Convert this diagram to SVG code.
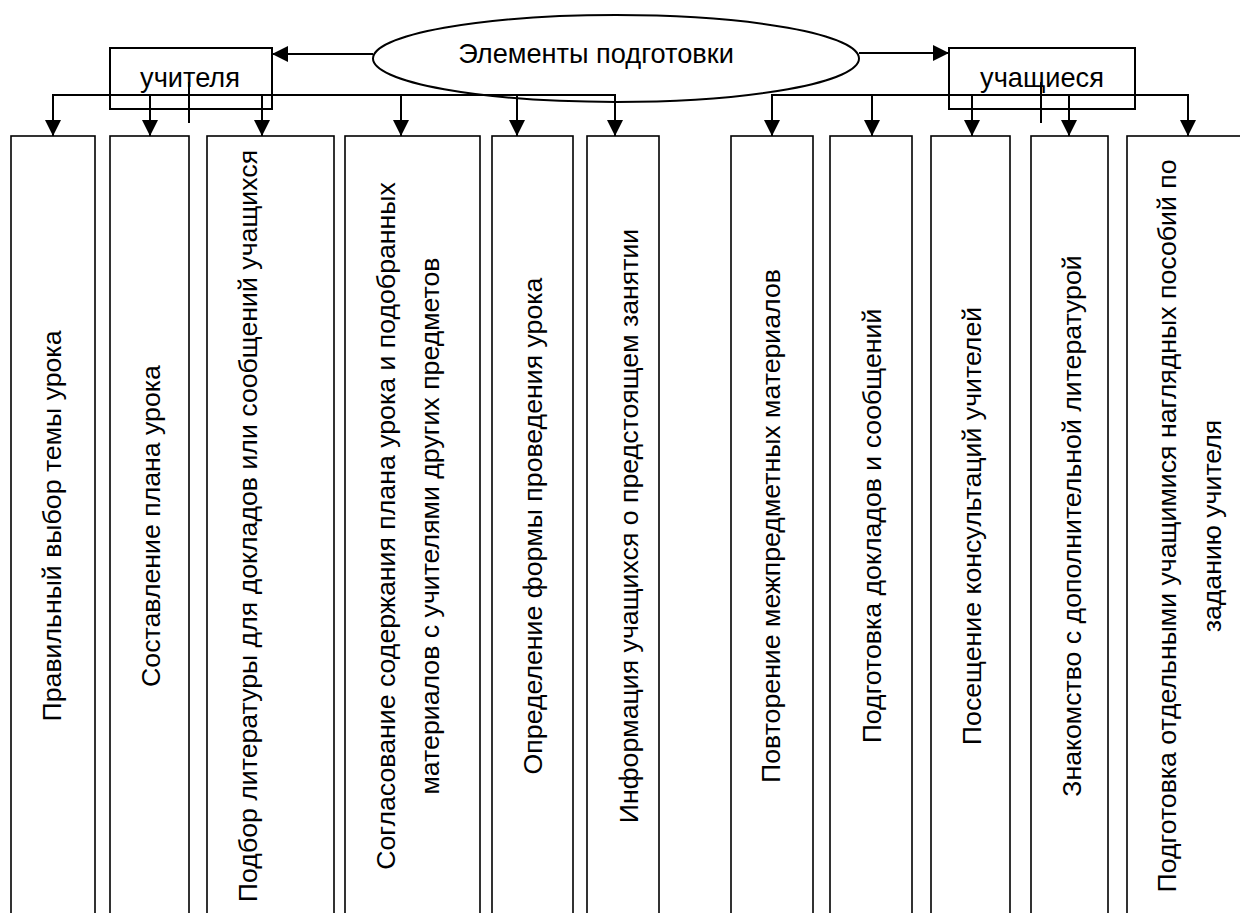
<svg xmlns="http://www.w3.org/2000/svg" width="1240" height="913" viewBox="0 0 1240 913">
<defs>
<marker id="ah" markerUnits="userSpaceOnUse" markerWidth="16" markerHeight="16" viewBox="0 0 16 16" refX="16" refY="8" orient="auto">
<path d="M0,0 L16,8 L0,16 Z" fill="#000"/>
</marker>
</defs>
<style>
.t{font-family:"Liberation Sans",Arial,sans-serif;font-size:26.7px;fill:#000}
.h{font-size:27.2px}
.c{text-anchor:middle}
.box{fill:none;stroke:#000;stroke-width:1.6}
.hb{fill:none;stroke:#000;stroke-width:2}
.ln{fill:none;stroke:#000;stroke-width:2}
.ar{fill:none;stroke:#000;stroke-width:2;marker-end:url(#ah)}
</style>
<rect width="1240" height="913" fill="#fff"/>
<g id="root">
<ellipse class="hb" cx="616" cy="58.5" rx="243" ry="43.5"/>
<text class="t h c" x="596" y="63">Элементы подготовки</text>
</g>
<g id="teachers">
<rect class="hb" x="110" y="48" width="162" height="61"/>
<text class="t h c" x="190" y="87">учителя</text>
</g>
<g id="students">
<rect class="hb" x="949" y="48" width="186" height="61"/>
<text class="t h c" x="1042" y="87">учащиеся</text>
</g>
<g id="connectors">
<line class="ar" x1="373" y1="54" x2="272" y2="54"/>
<line class="ar" x1="859" y1="53" x2="949" y2="53"/>
<polyline class="ln" points="53,95 615,95"/>
<polyline class="ln" points="772,95 1188,95"/>
<line class="ln" x1="189" y1="82" x2="189" y2="123"/>
<line class="ln" x1="1041" y1="82" x2="1041" y2="123"/>
<line class="ar" x1="53" y1="94" x2="53" y2="136"/>
<line class="ar" x1="150" y1="94" x2="150" y2="136"/>
<line class="ar" x1="262" y1="94" x2="262" y2="136"/>
<line class="ar" x1="401" y1="94" x2="401" y2="136"/>
<line class="ar" x1="517" y1="94" x2="517" y2="136"/>
<line class="ar" x1="615" y1="94" x2="615" y2="136"/>
<line class="ar" x1="772" y1="94" x2="772" y2="136"/>
<line class="ar" x1="872" y1="94" x2="872" y2="136"/>
<line class="ar" x1="972" y1="94" x2="972" y2="136"/>
<line class="ar" x1="1069" y1="94" x2="1069" y2="136"/>
<line class="ar" x1="1188" y1="94" x2="1188" y2="136"/>
</g>
<g id="n1"><rect class="box" x="11" y="136" width="84" height="800"/>
<text class="t c" transform="translate(61,526) rotate(-90)">Правильный выбор темы урока</text></g>
<g id="n2"><rect class="box" x="110" y="136" width="79" height="800"/>
<text class="t c" transform="translate(160,526) rotate(-90)">Составление плана урока</text></g>
<g id="n3"><rect class="box" x="207" y="136" width="127" height="800"/>
<text class="t c" transform="translate(257,526) rotate(-90)">Подбор литературы для докладов или сообщений учащихся</text></g>
<g id="n4"><rect class="box" x="345" y="136" width="135" height="800"/>
<text class="t c" transform="translate(395,526) rotate(-90)">Согласование содержания плана урока и подобранных</text>
<text class="t c" transform="translate(439,526) rotate(-90)">материалов с учителями других предметов</text></g>
<g id="n5"><rect class="box" x="492" y="136" width="81" height="800"/>
<text class="t c" transform="translate(542,526) rotate(-90)">Определение формы проведения урока</text></g>
<g id="n6"><rect class="box" x="587" y="136" width="72" height="800"/>
<text class="t c" transform="translate(638,526) rotate(-90)">Информация учащихся о предстоящем занятии</text></g>
<g id="n7"><rect class="box" x="731" y="136" width="82" height="800"/>
<text class="t c" transform="translate(780,526) rotate(-90)">Повторение межпредметных материалов</text></g>
<g id="n8"><rect class="box" x="830" y="136" width="82" height="800"/>
<text class="t c" transform="translate(881,526) rotate(-90)">Подготовка докладов и сообщений</text></g>
<g id="n9"><rect class="box" x="931" y="136" width="79" height="800"/>
<text class="t c" transform="translate(981,526) rotate(-90)">Посещение консультаций учителей</text></g>
<g id="n10"><rect class="box" x="1031" y="136" width="77" height="800"/>
<text class="t c" transform="translate(1081,526) rotate(-90)">Знакомство с дополнительной литературой</text></g>
<g id="n11"><rect class="box" x="1127" y="136" width="130" height="800"/>
<text class="t c" transform="translate(1176,526) rotate(-90)">Подготовка отдельными учащимися наглядных пособий по</text>
<text class="t c" transform="translate(1221,526) rotate(-90)">заданию учителя</text></g>
</svg>
